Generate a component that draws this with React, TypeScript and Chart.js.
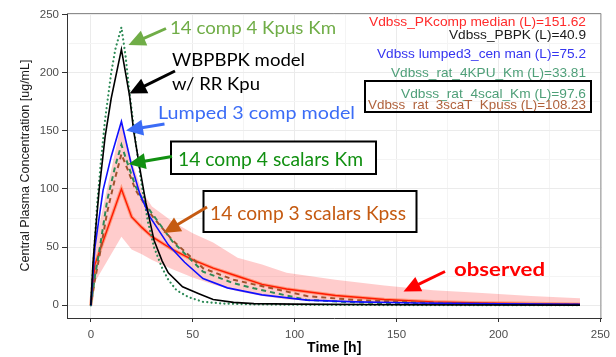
import React, { useEffect, useRef } from "react";
import { Chart, registerables } from "chart.js";

Chart.register(...registerables);

// ---------- data ----------
const tObs = [0, 2, 15, 20, 25, 30, 40, 50, 60, 72, 84, 96, 120, 144, 168, 192, 216, 240];
const obsMedian = [0, 35, 100, 76, 67, 59, 48, 39, 32, 25, 18, 14, 8.5, 5, 3, 2, 1.5, 1];
const obsLower = [0, 20, 59, 48, 44, 39, 31, 24, 18, 12, 8, 5, 3, 2, 1.2, 0.8, 0.5, 0.4];
const obsUpper = [0, 52, 157, 125, 98, 85, 72, 62, 54, 41, 35, 28, 22, 17, 13, 10.5, 8, 6];

const tPBPK = [0, 1, 2, 4, 7, 10, 15, 17, 19, 21, 24, 27, 31, 35, 38, 45, 53, 60, 70, 80, 100, 150, 240];
const cPBPK = [0, 35, 58, 98, 145, 178, 220, 200, 180, 150, 118, 88, 56, 38, 28, 16, 10, 5, 2.5, 1.5, 1, 0.5, 0.2];

const t4KPU = [0, 1, 3, 5, 7, 10, 12, 15, 17, 19, 22, 25, 28, 31, 35, 38, 42, 48, 55, 65, 80, 100, 150, 240];
const c4KPU = [0, 30, 85, 125, 160, 200, 220, 239, 215, 182, 140, 103, 72, 50, 32, 22, 13, 7, 3, 1.5, 0.8, 0.5, 0.2, 0.1];

const tLump = [0, 2, 6, 10, 15, 20, 24, 29, 38, 46, 55, 67, 84, 106, 130, 160, 200, 240];
const cLump = [0, 50, 99, 128, 158, 120, 96, 76, 52, 37, 23, 15, 9, 4.5, 3, 2, 1.2, 0.8];

const tScal = [0, 2, 4, 8, 12, 15, 18, 22, 26, 30, 40, 55, 70, 80, 106, 130, 160, 200, 240];
const c4scal = [0, 25, 45, 90, 120, 138, 122, 102, 89, 79, 55, 29, 19, 14.6, 4.6, 2.5, 1.2, 0.6, 0.3];
const c3scal = [0, 22, 40, 80, 110, 130, 117, 99, 88, 77, 56, 32, 22, 18, 8, 4.5, 2.5, 1.2, 0.6];

const xTicks = [0, 25, 50, 75, 100, 125, 150, 175, 200, 225, 250];
const yTicks = [0, 25, 50, 75, 100, 125, 150, 175, 200, 225, 250];

const vdLines = [
  { text: "Vdbss_PKcomp median (L)=151.62", color: "#FF2A2A" },
  { text: "Vdbss_PBPK (L)=40.9", color: "#1A1A1A" },
  { text: "Vdbss lumped3_cen man (L)=75.2", color: "#3535F0" },
  { text: "Vdbss_rat_4KPU_Km (L)=33.81", color: "#4E9F78" },
  { text: "Vdbss_rat_4scal_Km (L)=97.6", color: "#4E9F78" },
  { text: "Vdbss_rat_3scaT_Kpuss (L)=108.23", color: "#B0623C" },
];

const pts = (t: number[], c: number[]) => t.map((x, i) => ({ x, y: c[i] }));

const AXIS_FONT = "'Liberation Sans', Arial, sans-serif";
const ANN_FONT = "Lato, 'Open Sans', sans-serif";

function fitText(ctx: CanvasRenderingContext2D, text: string, x: number, baseline: number, width: number, font: string, color: string) {
  ctx.save();
  ctx.font = font;
  const w = ctx.measureText(text).width;
  ctx.translate(x, baseline);
  ctx.scale(width / w, 1);
  ctx.fillStyle = color;
  ctx.textAlign = "left";
  ctx.textBaseline = "alphabetic";
  ctx.fillText(text, 0, 0);
  ctx.restore();
}

function arrow(ctx: CanvasRenderingContext2D, x1: number, y1: number, x2: number, y2: number, color: string, lw = 3, headLen = 17, headW = 8) {
  const a = Math.atan2(y2 - y1, x2 - x1);
  const bx = x2 - headLen * Math.cos(a);
  const by = y2 - headLen * Math.sin(a);
  ctx.save();
  ctx.strokeStyle = color;
  ctx.fillStyle = color;
  ctx.lineWidth = lw;
  ctx.beginPath();
  ctx.moveTo(x1, y1);
  ctx.lineTo(bx + Math.cos(a), by + Math.sin(a));
  ctx.stroke();
  ctx.beginPath();
  ctx.moveTo(x2, y2);
  ctx.lineTo(bx + headW * Math.sin(a), by - headW * Math.cos(a));
  ctx.lineTo(bx - headW * Math.sin(a), by + headW * Math.cos(a));
  ctx.closePath();
  ctx.fill();
  ctx.restore();
}

function box(ctx: CanvasRenderingContext2D, x: number, y: number, w: number, h: number, fill: boolean) {
  ctx.save();
  if (fill) {
    ctx.fillStyle = "#FFFFFF";
    ctx.fillRect(x, y, w, h);
  }
  ctx.strokeStyle = "#000000";
  ctx.lineWidth = 2;
  ctx.strokeRect(x, y, w, h);
  ctx.restore();
}

const annotations = {
  id: "annotations",
  afterDraw(chart: any) {
    const ctx: CanvasRenderingContext2D = chart.ctx;
    const a = chart.chartArea;
    // top / right panel border
    ctx.save();
    ctx.strokeStyle = "#8C8C8C";
    ctx.lineWidth = 1;
    ctx.beginPath();
    ctx.moveTo(a.left, a.top + 0.5);
    ctx.lineTo(a.right - 0.5, a.top + 0.5);
    ctx.lineTo(a.right - 0.5, a.bottom);
    ctx.stroke();
    ctx.restore();

    // Vdss legend text
    const legendRight = 586;
    const baselines = [26, 39, 58, 77.3, 97.7, 109];
    const widths = [217, 137, 209, 195, 185, 218];
    vdLines.forEach((l, i) => {
      fitText(ctx, l.text, legendRight - widths[i], baselines[i], widths[i], `13px ${AXIS_FONT}`, l.color);
    });
    box(ctx, 365, 81, 226, 31, false);

    // Annotation boxes
    box(ctx, 171, 141.5, 205, 32.5, true);
    box(ctx, 203.5, 191, 213, 41, true);

    const f = `17.5px ${ANN_FONT}`;
    fitText(ctx, "14 comp 4 Kpus Km", 170, 33.5, 166, f, "#70AD47");
    fitText(ctx, "WBPBPK model", 172, 65.5, 133, f, "#000000");
    fitText(ctx, "w/ RR Kpu", 172, 90, 88, f, "#000000");
    fitText(ctx, "Lumped 3 comp model", 158, 118.5, 197, f, "#3B6CF6");
    fitText(ctx, "14 comp 4 scalars Km", 178, 165.5, 185, `18.5px ${ANN_FONT}`, "#119011");
    fitText(ctx, "14 comp 3 scalars Kpss", 210, 219.5, 196, `19px ${ANN_FONT}`, "#C55A11");
    fitText(ctx, "observed", 454, 276, 91, `bold 19.5px ${ANN_FONT}`, "#FF0000");

    arrow(ctx, 166, 28.5, 128.5, 45, "#70AD47");
    arrow(ctx, 175, 71, 129.5, 93.5, "#000000");
    arrow(ctx, 164.5, 124, 126, 130.5, "#3B6CF6");
    arrow(ctx, 172, 156.5, 128.5, 164, "#119011");
    arrow(ctx, 207, 207, 163.5, 233, "#C55A11");
    arrow(ctx, 445, 271.5, 403.5, 291.5, "#FF0000");
  },
};

export default function App() {
  const ref = useRef<HTMLCanvasElement | null>(null);

  useEffect(() => {
    if (!ref.current) return;
    const line = (label: string, data: any[], color: string, width: number, dash: number[] = [], extra: any = {}) => ({
      label,
      data,
      borderColor: color,
      borderWidth: width,
      borderDash: dash,
      pointRadius: 0,
      fill: false,
      tension: 0,
      ...extra,
    });
    const majorX = (v: number) => v % 50 === 0;

    const chart = new Chart(ref.current, {
      type: "line",
      data: {
        datasets: [
          line("PBPK", pts(tPBPK, cPBPK), "#000000", 1.6),
          line("lumped3", pts(tLump, cLump), "#1010FF", 1.6),
          line("4KPU_Km", pts(t4KPU, c4KPU), "#2E8B57", 2.2, [0.1, 4.2], { borderCapStyle: "round" }),
          line("4scal_Km", pts(tScal, c4scal), "#2E8B57", 2, [5, 4]),
          line("3scal_Kpuss", pts(tScal, c3scal), "#A0522D", 2, [5, 4], { borderDashOffset: 4 }),
          line("median", pts(tObs, obsMedian), "#FF1A00", 1.4),
          line("median haze", pts(tObs, obsMedian), "rgba(255,110,60,0.55)", 3.5),
          line("upper", pts(tObs, obsUpper), "rgba(0,0,0,0)", 0, [], {
            fill: "+1",
            backgroundColor: "rgba(255,0,0,0.2)",
          }),
          line("lower", pts(tObs, obsLower), "rgba(0,0,0,0)", 0),
        ],
      },
      options: {
        animation: false,
        responsive: false,
        devicePixelRatio: 1,
        layout: { padding: { left: 0, right: 9, top: 13, bottom: 0 } },
        plugins: { legend: { display: false }, tooltip: { enabled: false } },
        scales: {
          x: {
            type: "linear",
            min: -11.7,
            max: 250.5,
            afterBuildTicks: (s: any) => {
              s.ticks = xTicks.map((v) => ({ value: v }));
            },
            afterFit: (s: any) => {
              s.height = 39;
            },
            ticks: {
              autoSkip: false,
              maxRotation: 0,
              padding: 6,
              color: "#4D4D4D",
              font: { family: AXIS_FONT, size: 11.5 },
              callback: (v: any) => (majorX(Number(v)) ? String(v) : ""),
            },
            grid: {
              color: (c: any) => (c.tick && majorX(c.tick.value) ? "#EBEBEB" : "#F4F4F4"),
              lineWidth: 1,
              tickLength: 4,
              tickColor: (c: any) => (c.tick && majorX(c.tick.value) ? "#333333" : "rgba(0,0,0,0)"),
            },
            border: { color: "#333333", width: 1 },
            title: {
              display: true,
              text: "Time [h]",
              color: "#000000",
              font: { family: AXIS_FONT, size: 14, weight: "bold" },
              padding: { top: 0, bottom: 0 },
            },
          },
          y: {
            type: "linear",
            min: -10.9,
            max: 251.3,
            afterBuildTicks: (s: any) => {
              s.ticks = yTicks.map((v) => ({ value: v }));
            },
            afterFit: (s: any) => {
              s.width = 67;
            },
            ticks: {
              autoSkip: false,
              padding: 3,
              color: "#4D4D4D",
              font: { family: AXIS_FONT, size: 11.5 },
              callback: (v: any) => (majorX(Number(v)) ? String(v) : ""),
            },
            grid: {
              color: (c: any) => (c.tick && majorX(c.tick.value) ? "#EBEBEB" : "#F4F4F4"),
              lineWidth: 1,
              tickLength: 5,
              tickColor: (c: any) => (c.tick && majorX(c.tick.value) ? "#333333" : "rgba(0,0,0,0)"),
            },
            border: { color: "#333333", width: 1 },
            title: {
              display: true,
              text: "Central Plasma Concentration [ug/mL]",
              color: "#1A1A1A",
              font: { family: AXIS_FONT, size: 12.5 },
              padding: { top: 18, bottom: 0 },
            },
          },
        },
      },
      plugins: [annotations],
    } as any);
    return () => chart.destroy();
  }, []);

  return (
    <div style={{ position: "absolute", left: 0, top: 0, width: 616, height: 357, background: "#FFFFFF" }}>
      <canvas ref={ref} width={616} height={357} style={{ display: "block" }} />
    </div>
  );
}
